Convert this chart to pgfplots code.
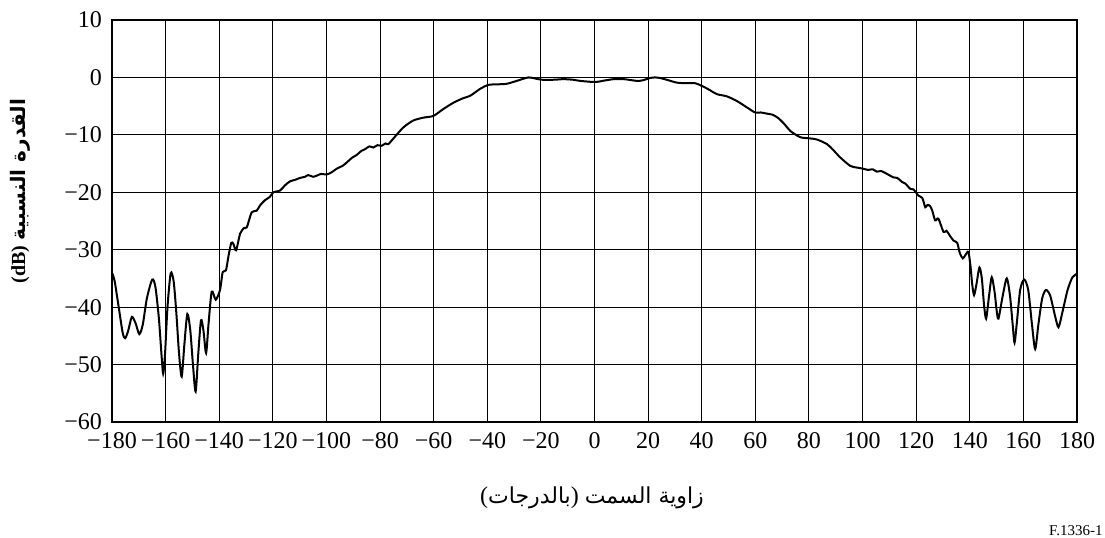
\documentclass[border=0pt]{standalone}
\usepackage{pgfplots}
\pgfplotsset{compat=1.18}
\usepackage{fontspec}
\setmainfont{Liberation Serif}
\newfontfamily\arabicfont[Script=Arabic]{DejaVu Sans}
\TeXXeTstate=1

\begin{document}
\begin{tikzpicture}
\begin{axis}[
  scale only axis,
  width=482.5pt, height=201pt,
  xmin=-180, xmax=180, ymin=-60, ymax=10,
  xtick={-180,-160,...,180},
  ytick={-60,-50,...,10},
  xticklabels={−180,−160,−140,−120,−100,−80,−60,−40,−20,0,20,40,60,80,100,120,140,160,180},
  yticklabels={−60,−50,−40,−30,−20,−10,0,10},
  tick label style={font=\fontsize{12}{14}\selectfont},
  xticklabel style={yshift=-1.5pt},
  yticklabel style={xshift=-1.5pt},
  major tick length=0pt,
  grid=major,
  major grid style={black, line width=0.55pt},
  axis line style={black, line width=1.2pt},
  clip=true,
]
\addplot[black, line width=1pt, smooth, tension=0.45] coordinates {
(-180,-34.0) (-179,-35.5) (-177.5,-40) (-176,-44.5) (-175.1,-45.4) (-174,-44.2)
(-172.6,-41.7) (-171.2,-42.8) (-169.8,-44.7) (-168.5,-43) (-167,-38.5) (-165.0,-35.2)
(-163.8,-36.5) (-162.5,-42) (-161.5,-48.5) (-160.9,-51.6) (-160.2,-48) (-159.3,-40)
(-158.1,-34.1) (-157,-35.5) (-156,-41) (-155,-48) (-154.0,-52.1) (-153,-46.5)
(-151.9,-41.2) (-150.8,-44) (-149.8,-50) (-148.8,-54.7) (-147.8,-48) (-146.8,-42.3)
(-145.9,-44) (-144.9,-48.0) (-144,-43) (-142.8,-37.3) (-141.3,-38.7) (-139.7,-37.0)
(-138.7,-33.9) (-137.5,-33.6) (-136.5,-31) (-135.5,-28.8) (-134.7,-29.0) (-133.7,-30.1)
(-132.2,-27.2) (-130.7,-26.2) (-129.7,-26.1) (-127.9,-23.5) (-126.0,-23.2) (-124.8,-22.3)
(-123,-21.4) (-121.1,-20.8) (-119.8,-20.0) (-117.3,-19.7) (-115.5,-18.8) (-113.6,-18.1)
(-111.5,-17.8) (-109.9,-17.5) (-108,-17.3) (-106.8,-17.0) (-105,-17.3) (-103.6,-17.1)
(-102,-16.8) (-99.9,-16.9) (-98,-16.5) (-96.2,-15.9) (-94,-15.4) (-92.4,-14.8)
(-90.5,-14.0) (-88.7,-13.5) (-87,-12.8) (-85.6,-12.5) (-84,-12.0) (-82.5,-12.2)
(-81,-11.8) (-79.4,-11.9) (-78,-11.5) (-76.9,-11.6) (-74.4,-10.3) (-71.3,-8.7)
(-67.6,-7.5) (-63.8,-7.0) (-60.1,-6.7) (-56.4,-5.5) (-52.6,-4.4) (-48.9,-3.6)
(-46.4,-3.2) (-42.7,-2.0) (-39.6,-1.3) (-36,-1.2) (-32.7,-1.1) (-29,-0.6)
(-24.7,0) (-22,-0.2) (-19.7,-0.4) (-15,-0.4) (-11.6,-0.3) (-8,-0.4)
(-5.4,-0.6) (0.2,-0.8) (3,-0.6) (7.1,-0.3) (11,-0.3) (15.8,-0.6)
(18,-0.5) (20.7,-0.1) (22.6,0.0) (24.5,-0.1) (26.9,-0.4) (30.7,-0.9)
(34,-1.0) (37.5,-1.0) (40.6,-1.6) (43,-2.2) (45.6,-2.9) (49.4,-3.3)
(53.1,-4.1) (56.8,-5.2) (59.9,-6.1) (62,-6.1) (64.3,-6.3) (66.5,-6.5)
(68.6,-7.1) (71,-8.2) (73.0,-9.3) (76.7,-10.4) (80,-10.6) (82.9,-10.8)
(86.7,-11.6) (89,-12.6) (91.6,-13.9) (95.4,-15.4) (98,-15.7) (100.3,-15.9)
(102,-16.1) (103.8,-16.0) (105.3,-16.4) (107,-16.3) (109.1,-16.8) (111.5,-17.4)
(113,-17.5) (114.7,-18.2) (116,-18.5) (117.8,-19.4) (119,-19.5) (120.9,-20.6)
(122.3,-21.0) (123.4,-22.6) (124.2,-22.2) (125.2,-22.4) (126,-23.2) (127.1,-24.9)
(128.3,-24.6) (130.2,-26.9) (131.3,-26.7) (132.5,-27.5) (133.9,-28.4) (135.3,-28.8)
(136.3,-30.6) (137.4,-31.5) (138.4,-30.9) (139.5,-30.4) (140.3,-33) (140.9,-36)
(141.6,-37.9) (142.5,-36) (143.6,-33.1) (144.5,-35) (145.3,-39.5) (146.1,-42.0)
(147.2,-38) (148.2,-34.8) (149.3,-37.5) (150,-40.5) (150.7,-42.0) (152.3,-38)
(153.8,-35.0) (155,-38) (156,-43) (156.7,-46.2) (157.5,-43) (158.8,-37)
(160.3,-35.2) (161.8,-37) (163.2,-43) (164.4,-47.3) (165.6,-43) (167,-38.5)
(168.4,-37.0) (170,-38) (171.8,-41.5) (173.1,-43.5) (174.5,-41) (176.5,-37)
(178.3,-34.8) (180,-34.2)
};
\end{axis}
% axis titles and figure number, placed relative to the axis box (origin at its lower-left corner)
\node[font=\fontsize{11}{13}\selectfont] at (240pt,-38pt)
  {\fontsize{12}{14}\selectfont(%
   {\arabicfont\fontsize{11}{13}\selectfont\beginR بالدرجات\endR}%
   )\ {\arabicfont\fontsize{11}{13}\selectfont\beginR زاوية السمت\endR}};
\node[rotate=90, font=\bfseries\fontsize{10}{12}\selectfont] at (-46pt,115.5pt)
  {(dB) {\arabicfont\bfseries\beginR القدرة النسبية\endR}};
\node[anchor=base east, inner sep=0pt, font=\fontsize{7.5}{9}\selectfont] at (495.5pt,-56.5pt) {F.1336-1};
% page frame
\pgfresetboundingbox
\path[use as bounding box] (-56pt,-57.5pt) rectangle (496.5pt,211pt);
\end{tikzpicture}
\end{document}
